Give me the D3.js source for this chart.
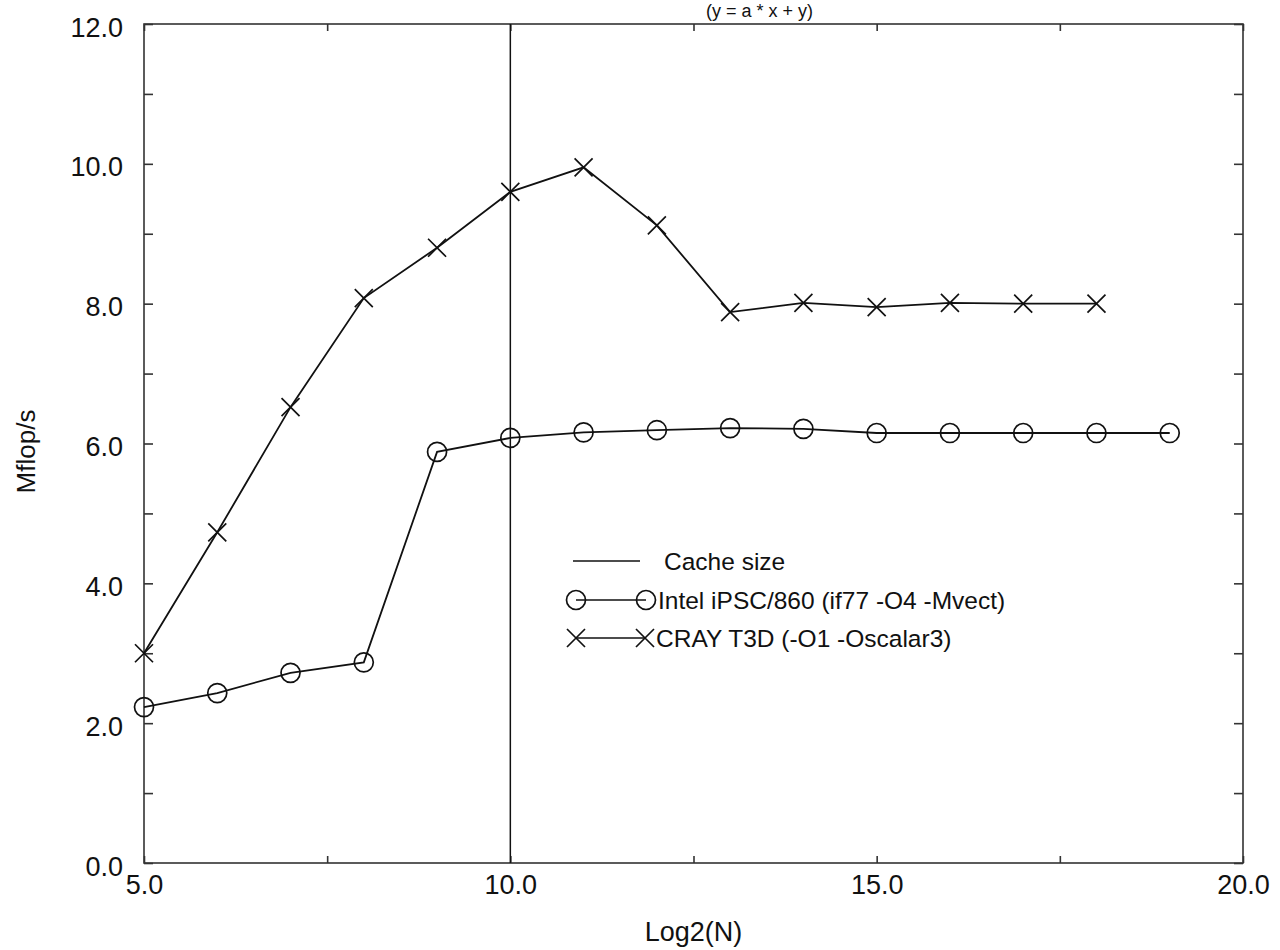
<!DOCTYPE html>
<html>
<head>
<meta charset="utf-8">
<script src="https://cdn.jsdelivr.net/npm/d3@7"></script>
<style>
  html, body { margin: 0; padding: 0; background: #fff; }
  svg { display: block; font-family: "Liberation Sans", Arial, Helvetica, sans-serif; }
</style>
</head>
<body>
<svg id="chart" width="1280" height="950"></svg>
<script>
// ---- data ----
const log2N = [5, 6, 7, 8, 9, 10, 11, 12, 13, 14, 15, 16, 17, 18, 19];
const intelMflops = [2.23, 2.43, 2.72, 2.87, 5.88, 6.08, 6.16, 6.19, 6.22, 6.21, 6.15, 6.15, 6.15, 6.15, 6.15];
const crayLog2N = [5, 6, 7, 8, 9, 10, 11, 12, 13, 14, 15, 16, 17, 18];
const crayMflops = [3.0, 4.73, 6.52, 8.08, 8.80, 9.60, 9.95, 9.12, 7.88, 8.01, 7.95, 8.01, 8.00, 8.00];
const cacheSizeLog2N = 10;
const xMajorTicks = [5, 10, 15, 20];
const xMinorTicks = [7.5, 12.5, 17.5];
const yMajorTicks = [0, 2, 4, 6, 8, 10, 12];
const yAllTicks = [0, 1, 2, 3, 4, 5, 6, 7, 8, 9, 10, 11, 12];
const legendLabels = ["Cache size", "Intel iPSC/860 (if77 -O4 -Mvect)", "CRAY T3D (-O1 -Oscalar3)"];
const titleText = "(y = a * x + y)";
const xLabel = "Log2(N)";
const yLabel = "Mflop/s";

// ---- layout ----
const L = 144, R = 1243, T = 24, B = 863;
const svg = d3.select("#chart");
svg.append("rect").attr("width", 1280).attr("height", 950).attr("fill", "#fff");

const x = d3.scaleLinear().domain([5, 20]).range([L, R]);
const y = d3.scaleLinear().domain([0, 12]).range([B, T]);

const frameColor = "#333";
const tickFont = 27;

function styleAxis(g) {
  g.select(".domain").remove();
  g.selectAll(".tick line").attr("stroke", frameColor).attr("stroke-width", 1.6);
  g.selectAll(".tick text").attr("fill", "#111").style("font-size", tickFont + "px");
}

// bottom axis: labels at major ticks
svg.append("g").attr("transform", `translate(0,${B})`)
  .call(d3.axisBottom(x).tickValues(xMajorTicks).tickSizeInner(-7).tickSizeOuter(0)
        .tickPadding(12).tickFormat(d3.format(".1f")))
  .call(styleAxis);
svg.append("g").attr("transform", `translate(0,${B})`)
  .call(d3.axisBottom(x).tickValues(xMinorTicks).tickSizeInner(-7).tickSizeOuter(0).tickFormat(""))
  .call(styleAxis);
// top axis ticks
svg.append("g").attr("transform", `translate(0,${T})`)
  .call(d3.axisTop(x).tickValues(xMajorTicks.concat(xMinorTicks)).tickSizeInner(-7).tickSizeOuter(0).tickFormat(""))
  .call(styleAxis);
// left axis
svg.append("g").attr("transform", `translate(${L},0)`)
  .call(d3.axisLeft(y).tickValues(yAllTicks).tickSizeInner(-9).tickSizeOuter(0).tickPadding(21)
        .tickFormat(d => yMajorTicks.includes(d) ? d3.format(".1f")(d) : ""))
  .call(styleAxis)
  .call(g => g.selectAll(".tick text").attr("dy", "0.45em"));
// right axis
svg.append("g").attr("transform", `translate(${R},0)`)
  .call(d3.axisRight(y).tickValues(yAllTicks).tickSizeInner(-9).tickSizeOuter(0).tickFormat(""))
  .call(styleAxis);

// frame
svg.append("rect").attr("x", L).attr("y", T).attr("width", R - L).attr("height", B - T)
  .attr("fill", "none").attr("stroke", frameColor).attr("stroke-width", 1.6);

// title (cut off at top in the reference scan; kept fully visible here)
svg.append("text").attr("x", 706).attr("y", 17).attr("text-anchor", "start")
  .style("font-size", "18px").attr("fill", "#111").text(titleText);

// axis labels
svg.append("text").attr("x", (L + R) / 2).attr("y", 941).attr("text-anchor", "middle")
  .style("font-size", "27px").attr("fill", "#111").text(xLabel);
svg.append("text").attr("transform", `translate(35,${(T + B) / 2 + 8}) rotate(-90)`)
  .attr("text-anchor", "middle").style("font-size", "26px").attr("fill", "#111").text(yLabel);

// cache size line
svg.append("line").attr("x1", x(cacheSizeLog2N)).attr("x2", x(cacheSizeLog2N))
  .attr("y1", y(0)).attr("y2", y(12)).attr("stroke", "#111").attr("stroke-width", 1.5);

const line = d3.line().x(d => x(d[0])).y(d => y(d[1]));
const intelData = log2N.map((n, i) => [n, intelMflops[i]]);
const crayData = crayLog2N.map((n, i) => [n, crayMflops[i]]);

svg.append("path").datum(crayData).attr("d", line)
  .attr("fill", "none").attr("stroke", "#111").attr("stroke-width", 1.8);
svg.append("path").datum(intelData).attr("d", line)
  .attr("fill", "none").attr("stroke", "#111").attr("stroke-width", 1.8);

const R_CIRC = 9.5, XS = 9;
function circleMark(g, cx, cy) {
  g.append("circle").attr("cx", cx).attr("cy", cy).attr("r", R_CIRC)
    .attr("fill", "none").attr("stroke", "#111").attr("stroke-width", 1.7);
}
function crossMark(g, cx, cy) {
  g.append("path").attr("d", `M${cx - XS},${cy - XS}L${cx + XS},${cy + XS}M${cx - XS},${cy + XS}L${cx + XS},${cy - XS}`)
    .attr("stroke", "#111").attr("stroke-width", 1.7).attr("fill", "none");
}
const markG = svg.append("g");
intelData.forEach(d => circleMark(markG, x(d[0]), y(d[1])));
crayData.forEach(d => crossMark(markG, x(d[0]), y(d[1])));

// legend
const lg = svg.append("g");
const legendFont = 24.5;
const rows = [561, 600, 638];
lg.append("line").attr("x1", 573).attr("x2", 640).attr("y1", rows[0]).attr("y2", rows[0])
  .attr("stroke", "#111").attr("stroke-width", 1.6);
lg.append("line").attr("x1", 576).attr("x2", 646).attr("y1", rows[1]).attr("y2", rows[1])
  .attr("stroke", "#111").attr("stroke-width", 1.6);
circleMark(lg, 576, rows[1]); circleMark(lg, 646, rows[1]);
lg.append("line").attr("x1", 576).attr("x2", 645).attr("y1", rows[2]).attr("y2", rows[2])
  .attr("stroke", "#111").attr("stroke-width", 1.6);
crossMark(lg, 576, rows[2]); crossMark(lg, 645, rows[2]);
const textX = [664, 658, 656];
legendLabels.forEach((t, i) => {
  lg.append("text").attr("x", textX[i]).attr("y", rows[i] + 9)
    .style("font-size", legendFont + "px").attr("fill", "#111").text(t);
});
</script>
</body>
</html>
